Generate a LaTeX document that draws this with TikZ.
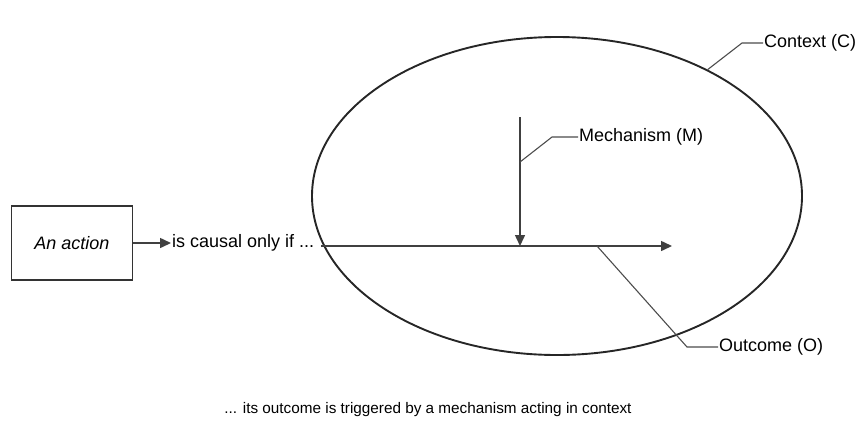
\documentclass[tikz,border=0pt]{standalone}
\usepackage{fontspec}
\setmainfont{Liberation Sans}
\usetikzlibrary{arrows.meta, positioning, shapes.geometric, calc}

\tikzset{
    box/.style={draw=black!80, line width=1.6pt, minimum width=121pt, minimum height=74pt},
    leader/.style={draw=black!70, line width=1.1pt},
    flow/.style={draw=black!75, line width=1.5pt, -{Triangle[length=11pt, width=10pt]}},
    lbl/.style={inner sep=1pt, anchor=west}
}

\begin{document}
\begin{tikzpicture}[x=1pt, y=-1pt, font=\fontsize{18}{21}\selectfont]
    \useasboundingbox (0,0) rectangle (858,426);

    % Action box and its first step
    \node[box] (action) at (72,243) {\itshape An action};
    \node[lbl] (causal) at (171,243) {is causal only if ...};
    \draw[flow] (action.east) -- (causal.west);

    % Context as the big ellipse
    \node[ellipse, draw=black!85, line width=1.9pt, minimum width=490pt, minimum height=318pt] (context) at (557,196) {};

    % Define point coordinates
    \coordinate (ostart) at (321,246);
    \coordinate (oend) at (672,246);
    \coordinate (mtop) at (520,117);
    \coordinate (mhit) at (520,246);
    \coordinate (obase) at (597,246);

    % Outcome line and mechanism arrow
    \draw[flow] (ostart) -- (oend);
    \draw[flow] (mtop) -- (mhit);

    % Labels with leader lines
    \node[lbl] (clabel) at (763,43) {Context (C)};
    \node[lbl] (mlabel) at (578,137) {Mechanism (M)};
    \node[lbl] (olabel) at (718,347) {Outcome (O)};
    \draw[leader] (context.40) -- (742,43) -- (clabel.west);
    \draw[leader] (520,162) -- (552,137) -- (mlabel.west);
    \draw[leader] (obase) -- (687,347) -- (olabel.west);

    % Caption
    \node[font=\fontsize{15.3}{18}\selectfont] (caption) at (428,410) {... its outcome is triggered by a mechanism acting in context};
\end{tikzpicture}
\end{document}
